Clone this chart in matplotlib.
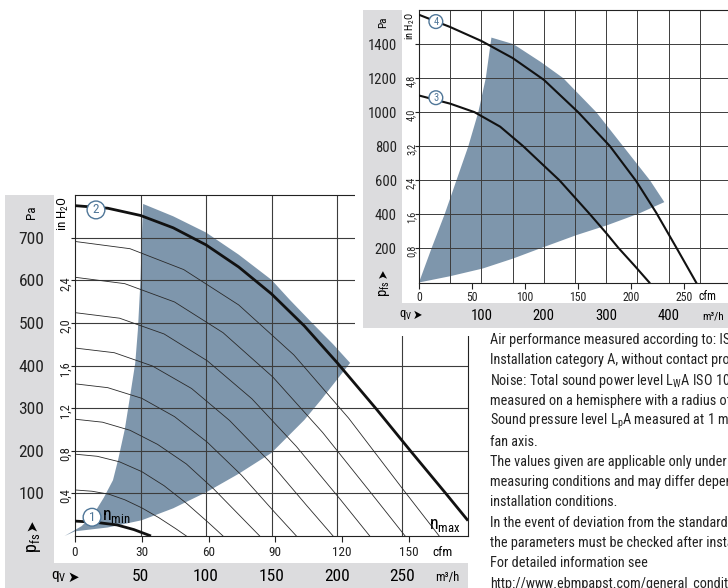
import matplotlib
matplotlib.use("Agg")
import matplotlib.pyplot as plt
import matplotlib.patches as patches

plt.rcParams['font.family'] = ['Roboto Condensed', 'Liberation Sans Narrow', 'DejaVu Sans']
plt.rcParams['font.stretch'] = 'condensed'
plt.rcParams['mathtext.fontset'] = 'custom'
plt.rcParams['mathtext.rm'] = 'Roboto Condensed'
plt.rcParams['mathtext.it'] = 'Roboto Condensed:style=italic'

# ---- data, left chart (flow in m3/h, pressure in Pa) ----
curve1_q = [0, 16, 32, 45, 58]
curve1_p = [35, 32, 26, 15, 0]
curve2_q = [0, 25, 50, 75, 100, 125, 150, 175, 200, 230, 256, 283, 300]
curve2_p = [775, 769, 752, 723, 683, 631, 568, 493, 407, 298, 200, 100, 36]

# thin intermediate speed curves
arcs_q = [
    [0, 13, 26, 38, 51, 64, 77, 85],
    [0, 17, 34, 51, 68, 85, 102, 113],
    [0, 21, 42, 63, 85, 106, 127, 141],
    [0, 25, 51, 76, 101, 127, 152, 169],
    [0, 30, 59, 89, 118, 148, 177, 197],
    [0, 34, 68, 101, 135, 169, 203, 225],
    [0, 38, 76, 113, 151, 189, 227, 252],
    [0, 42, 83, 125, 167, 209, 250, 278],
]
arcs_p = [
    [108, 105, 98, 85, 66, 43, 17, 0],
    [192, 187, 174, 151, 118, 77, 31, 0],
    [274, 267, 248, 215, 169, 110, 44, 0],
    [357, 348, 323, 280, 220, 143, 57, 0],
    [441, 430, 399, 346, 271, 176, 71, 0],
    [524, 511, 474, 411, 322, 210, 84, 0],
    [607, 592, 549, 477, 373, 243, 97, 0],
    [691, 674, 625, 542, 425, 276, 111, 0],
]

range1_q = [52, 75, 100, 125, 150, 164, 180, 197, 210, 188, 175, 150, 125, 101, 75,
            51, 25, 0, -8, 5, 14, 22, 29, 33, 38, 42, 46, 48, 50, 51]
range1_p = [779, 750, 712, 660, 601, 554, 503, 450, 406, 320, 272, 195, 146, 104, 65,
            37, 20, 11, 0, 23, 50, 90, 131, 180, 250, 327, 406, 483, 600, 700]

# ---- data, right chart ----
curve3_q = [0, 50, 89, 130, 167, 200, 225, 250, 274, 300, 319, 345, 369]
curve3_p = [1098, 1050, 1000, 915, 800, 686, 600, 498, 400, 290, 205, 100, 0]
curve4_q = [0, 50, 100, 150, 200, 255, 306, 348, 380, 413, 444]
curve4_p = [1572, 1500, 1418, 1318, 1190, 1000, 800, 595, 410, 200, 0]

range2_q = [116, 151, 195, 231, 284, 327, 370, 393, 353, 302, 252, 194, 151, 102, 50, 0,
            20, 41, 60, 79, 95, 107]
range2_p = [1438, 1400, 1295, 1200, 1000, 800, 600, 472, 406, 337, 278, 200, 141, 82, 37, 0,
            200, 400, 600, 800, 1000, 1200]

# ticks
left_m3h = [50, 100, 150, 200, 250]
left_cfm = [0, 30, 60, 90, 120, 150]
left_pa = [100, 200, 300, 400, 500, 600, 700]
left_inh2o = [0.4, 0.8, 1.2, 1.6, 2.0, 2.4]
right_m3h = [100, 200, 300, 400]
right_grid = [50, 100, 150, 200, 250, 300, 350, 400, 450]
right_cfm = [0, 50, 100, 150, 200, 250]
right_pa = [200, 400, 600, 800, 1000, 1200, 1400]
right_inh2o = [0.8, 1.6, 2.4, 3.2, 4.0, 4.8]

left_marks = [('2', 16, 765), ('1', 13, 44)]
right_marks = [('4', 27, 1532), ('3', 27, 1085)]

notes = [
    "Air performance measured according to: ISO 5801",
    "Installation category A, without contact protection",
    "Noise: Total sound power level L$_\\mathrm{W}$A ISO 10302",
    "measured on a hemisphere with a radius of 1 m",
    "Sound pressure level L$_\\mathrm{p}$A measured at 1 m distance on",
    "fan axis.",
    "The values given are applicable only under the specified",
    "measuring conditions and may differ depending on the",
    "installation conditions.",
    "In the event of deviation from the standard configuration,",
    "the parameters must be checked after installation!",
    "For detailed information see",
    "http://www.ebmpapst.com/general_conditions",
]

CFM = 1.69901
INH2O = 249.09
GRAY = '#dcdcde'
BLUE = '#7e96ac'
GRID = '#3c3c3c'
MARK = '#4f7698'
ARROW = ['DejaVu Sans']

W, H = 728, 588


def fx(x):
    return x / W


def fy(y):
    return 1 - y / H


def rect(fig, x0, y0, x1, y1, color, z):
    r = patches.Rectangle((fx(x0), fy(y1)), (x1 - x0) / W, (y1 - y0) / H,
                          transform=fig.transFigure, fc=color, ec='none', zorder=z)
    fig.patches.append(r)


def style_axes(ax, lab_size, pa_pad, m3_pad, lw):
    for s in ax.spines.values():
        s.set_linewidth(0.8)
        s.set_color('#222222')
    ax.spines['right'].set_visible(False)
    ax.tick_params(axis='y', direction='out', length=3, width=0.8,
                   labelsize=lab_size, pad=pa_pad, colors='#222222')
    ax.tick_params(axis='x', which='both', length=0, labelsize=lab_size, pad=m3_pad)
    ax.set_axisbelow('line')
    ax.grid(True, which='both', color=GRID, lw=lw)


def add_marks(ax, marks, size):
    for txt, q, p in marks:
        ax.text(q, p, txt, ha='center', va='center', fontsize=size, color=MARK, zorder=6,
                bbox=dict(boxstyle='circle,pad=0.18', fc='white', ec=MARK, lw=1.0))


fig = plt.figure(figsize=(W / 100, H / 100), dpi=100)

# ---------------- left chart ----------------
rect(fig, 5, 195, 468, 588, GRAY, -3)
rect(fig, 54, 195, 468, 563, 'white', -2)

ax1 = fig.add_axes([fx(75), fy(536), 393 / W, 341 / H])
ax1.set_xlim(0, 300)
ax1.set_ylim(0, 800)
ax1.fill(range1_q, range1_p, color=BLUE, lw=0, zorder=1, clip_on=False)
for q, p in zip(arcs_q, arcs_p):
    ax1.plot(q, p, color='#2a2a2a', lw=0.6, zorder=2)
ax1.plot(curve1_q, curve1_p, color='#111111', lw=2.0, zorder=3, solid_capstyle='butt')
ax1.plot(curve2_q, curve2_p, color='#111111', lw=2.0, zorder=3, solid_capstyle='butt')

ax1.set_xticks(left_m3h, [str(v) for v in left_m3h])
ax1.set_yticks(left_pa, [str(v) for v in left_pa])
style_axes(ax1, 12.5, 19, 24, 0.8)
ax1.spines['right'].set_visible(True)

cfm1 = ax1.secondary_xaxis('bottom', functions=(lambda q: q / CFM, lambda c: c * CFM))
cfm1.set_xticks(left_cfm, [str(v) for v in left_cfm])
cfm1.tick_params(length=4, width=0.8, labelsize=9.5, pad=3, colors='#222222')
cfm1.spines['bottom'].set_visible(False)

in1 = ax1.secondary_yaxis('left', functions=(lambda p: p / INH2O, lambda i: i * INH2O))
in1.set_yticks(left_inh2o, [f"{v:.1f}".replace('.', ',') for v in left_inh2o])
in1.tick_params(length=0, labelsize=9, pad=2, labelrotation=90, colors='#222222')
in1.spines['left'].set_visible(False)

add_marks(ax1, left_marks, 9.5)
ax1.text(20.5, 46, 'n$_\\mathrm{min}$', fontsize=13, ha='left', va='center', zorder=6)
ax1.text(294, 4, 'n$_\\mathrm{max}$', fontsize=13, ha='right', va='bottom', zorder=6)

fig.text(fx(31), fy(212), 'Pa', rotation=90, ha='center', va='center', fontsize=9.5, zorder=0.5)
fig.text(fx(63), fy(214), 'in H$_\\mathrm{2}$O', rotation=90, ha='center', va='center',
         fontsize=9.5, zorder=0.5)
fig.text(fx(32), fy(525), '\u27a4', rotation=90, ha='center', va='center', fontsize=11,
         family=ARROW, zorder=0.5)
fig.text(fx(34), fy(543), 'p$_\\mathrm{fs}$', rotation=90, ha='center', va='center',
         fontsize=13, zorder=0.5)
fig.text(fx(51), fy(577), 'q$_\\mathrm{V}$', ha='left', va='center', fontsize=11, zorder=0.5)
fig.text(fx(67), fy(577), '\u27a4', ha='left', va='center', fontsize=11,
         family=ARROW, zorder=0.5)
fig.text(fx(443), fy(553), 'cfm', ha='center', va='center', fontsize=9.5, zorder=0.5)
fig.text(fx(447), fy(578), 'm\u00b3/h', ha='center', va='center', fontsize=9, zorder=0.5)

# ---------------- right chart ----------------
rect(fig, 355, 0, 728, 336, 'white', 1)
rect(fig, 363, 10, 728, 328, GRAY, 2)
rect(fig, 402, 10, 728, 303, 'white', 2.5)

ax2 = fig.add_axes([fx(419), fy(282.5), (728 - 419) / W, 272.5 / H])
ax2.set_zorder(3)
ax2.set_xlim(0, 495)
ax2.set_ylim(0, 1600)
ax2.fill(range2_q, range2_p, color=BLUE, lw=0, zorder=1)
ax2.plot(curve3_q, curve3_p, color='#111111', lw=1.5, zorder=3)
ax2.plot(curve4_q, curve4_p, color='#111111', lw=1.5, zorder=3)

ax2.set_xticks(right_m3h, [str(v) for v in right_m3h])
ax2.set_xticks(right_grid, minor=True)
ax2.set_yticks(right_pa, [str(v) for v in right_pa])
style_axes(ax2, 10.5, 13, 19, 0.7)

cfm2 = ax2.secondary_xaxis('bottom', functions=(lambda q: q / CFM, lambda c: c * CFM))
cfm2.set_xticks(right_cfm, [str(v) for v in right_cfm])
cfm2.tick_params(length=4, width=0.8, labelsize=8.5, pad=2, colors='#222222')
cfm2.spines['bottom'].set_visible(False)

in2 = ax2.secondary_yaxis('left', functions=(lambda p: p / INH2O, lambda i: i * INH2O))
in2.set_yticks(right_inh2o, [f"{v:.1f}".replace('.', ',') for v in right_inh2o])
in2.tick_params(length=0, labelsize=7.5, pad=2, labelrotation=90, colors='#222222')
in2.spines['left'].set_visible(False)

add_marks(ax2, right_marks, 7.5)

fig.text(fx(383), fy(22), 'Pa', rotation=90, ha='center', va='center', fontsize=8, zorder=4)
fig.text(fx(410), fy(26), 'in H$_\\mathrm{2}$O', rotation=90, ha='center', va='center',
         fontsize=7.5, zorder=4)
fig.text(fx(383), fy(273), '\u27a4', rotation=90, ha='center', va='center', fontsize=9,
         family=ARROW, zorder=4)
fig.text(fx(384), fy(289), 'p$_\\mathrm{fs}$', rotation=90, ha='center', va='center',
         fontsize=10.5, zorder=4)
fig.text(fx(399), fy(315), 'q$_\\mathrm{V}$', ha='left', va='center', fontsize=9, zorder=4)
fig.text(fx(413), fy(315), '\u27a4', ha='left', va='center', fontsize=9,
         family=ARROW, zorder=4)
fig.text(fx(707), fy(296), 'cfm', ha='center', va='center', fontsize=8.5, zorder=4)
fig.text(fx(713), fy(316), 'm\u00b3/h', ha='center', va='center', fontsize=8, zorder=4)

# ---------------- notes ----------------
for i, line in enumerate(notes):
    fig.text(fx(490), fy(340 + 20.3 * i), line, ha='left', va='center', fontsize=10.3,
             color='#222222', zorder=5)

fig.savefig('out.png', dpi=100)
